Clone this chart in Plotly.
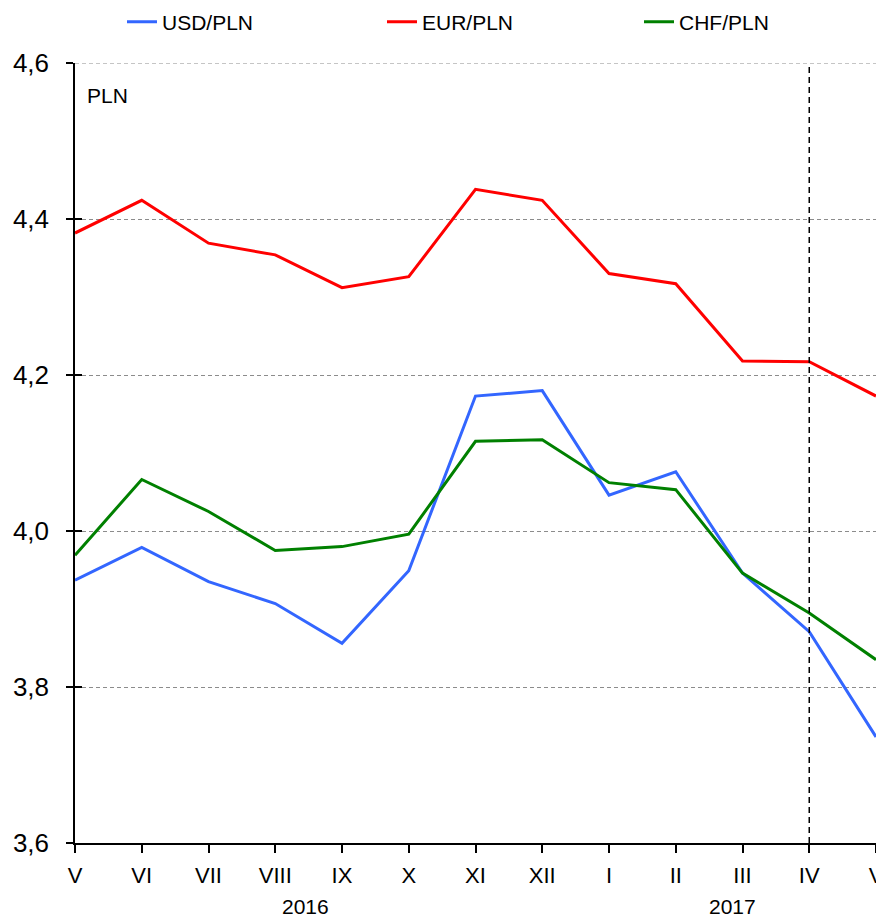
import plotly.graph_objects as go

months = ["V", "VI", "VII", "VIII", "IX", "X", "XI", "XII", "I", "II", "III", "IV", "V"]
usd_pln = [3.937, 3.979, 3.935, 3.907, 3.856, 3.949, 4.173, 4.180, 4.046, 4.076, 3.946, 3.871, 3.736]
eur_pln = [4.382, 4.424, 4.369, 4.354, 4.312, 4.326, 4.438, 4.424, 4.330, 4.317, 4.218, 4.217, 4.173]
chf_pln = [3.969, 4.066, 4.025, 3.975, 3.980, 3.996, 4.115, 4.117, 4.062, 4.053, 3.946, 3.895, 3.835]
years = [("2016", 3.45), ("2017", 9.85)]
marker_month = 11  # IV 2017

font = "Liberation Sans, Arial, sans-serif"
grid_color = "#8c8c8c"
grid_dash = "4px,3px"

# the html body has an 8px margin, so the figure is 8px smaller than the window
W, H = 876, 911

x = list(range(len(months)))

fig = go.Figure()
series = [
    ("USD/PLN", usd_pln, "#3366FF", "legend", 114),
    ("EUR/PLN", eur_pln, "#FF0000", "legend2", 374),
    ("CHF/PLN", chf_pln, "#008000", "legend3", 631),
]
for name, vals, color, leg, _ in series:
    fig.add_trace(go.Scatter(
        x=x, y=vals, mode="lines", name=name, legend=leg,
        line=dict(color=color, width=3),
        cliponaxis=False,
    ))

# invisible trace on a twin axis, just to get the inner half of the y ticks
fig.add_trace(go.Scatter(x=[0], y=[3.6], yaxis="y2", mode="markers",
                         marker=dict(opacity=0), showlegend=False, hoverinfo="skip"))

# top gridline (plotly drops the one on the range edge)
fig.add_hline(y=4.6, line=dict(color=grid_color, width=1, dash=grid_dash), layer="below")

# dashed marker line at IV 2017
fig.add_shape(type="line", x0=marker_month, x1=marker_month, y0=3.6, y1=4.6,
              xref="x", yref="y", line=dict(color="black", width=1.5, dash="6px,4px"))

fig.add_annotation(x=0, y=4.6, xref="x", yref="y", text="PLN", showarrow=False,
                   xanchor="left", yanchor="top", xshift=10, yshift=-19,
                   font=dict(family=font, size=21, color="black"))

for label, pos in years:
    fig.add_annotation(x=pos, y=0, xref="x", yref="paper", text=label, showarrow=False,
                       yanchor="top", yshift=-50,
                       font=dict(family=font, size=21, color="black"))

legend_style = dict(orientation="h", xanchor="left", yanchor="middle",
                    y=1 - 14 / H, yref="container", xref="container",
                    font=dict(family=font, size=21, color="black"),
                    bgcolor="rgba(0,0,0,0)")
legends = {}
for _, _, _, leg, px in series:
    legends[leg] = dict(legend_style, x=px / W)

fig.update_layout(
    width=W, height=H,
    margin=dict(l=67, r=8, t=55, b=76, autoexpand=False),
    plot_bgcolor="white", paper_bgcolor="white",
    separators=", ",
    showlegend=True,
    **legends,
    xaxis=dict(
        range=[0, 12], tickvals=x, ticktext=months,
        showgrid=False, zeroline=False,
        showline=True, linecolor="black", linewidth=1.5,
        ticks="outside", ticklen=8, tickcolor="black", tickwidth=1.5,
        ticklabelstandoff=4,
        tickfont=dict(family=font, size=22, color="black"),
    ),
    yaxis=dict(
        range=[3.6, 4.6], dtick=0.2, tickformat=".1f",
        showgrid=True, gridcolor=grid_color, griddash=grid_dash, gridwidth=1,
        zeroline=False,
        showline=True, linecolor="black", linewidth=1.5,
        ticks="outside", ticklen=7, tickcolor="black", tickwidth=1.5,
        ticklabelstandoff=12,
        tickfont=dict(family=font, size=26, color="black"),
    ),
    yaxis2=dict(
        range=[3.6, 4.6], dtick=0.2, overlaying="y", side="left",
        showgrid=False, zeroline=False, showline=False, showticklabels=False,
        ticks="inside", ticklen=7, tickcolor="black", tickwidth=1.5,
    ),
)

fig.write_html("out.html")
